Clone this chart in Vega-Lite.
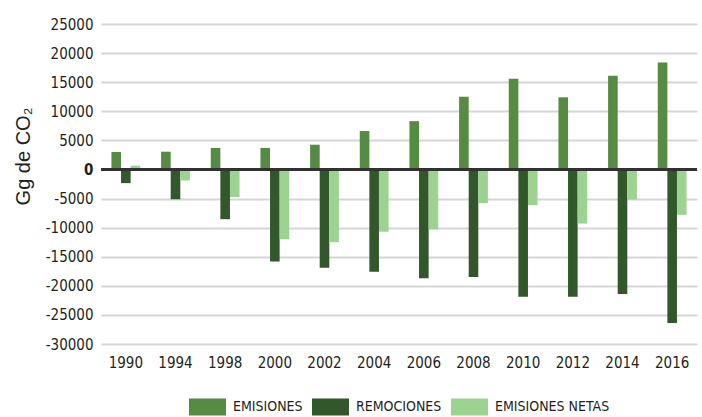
{
  "$schema": "https://vega.github.io/schema/vega-lite/v6.json",
  "autosize": {"type": "none"},
  "width": 596,
  "height": 320,
  "padding": {"left": 101, "top": 24, "right": 5, "bottom": 73},
  "background": "white",
  "config": {
    "view": {"stroke": null},
    "font": "DejaVu Sans Condensed"
  },
  "data": {
    "values": [
      {"year": "1990", "serie": "EMISIONES", "value": 3000},
      {"year": "1990", "serie": "REMOCIONES", "value": -2350},
      {"year": "1990", "serie": "EMISIONES NETAS", "value": 650},
      {"year": "1994", "serie": "EMISIONES", "value": 3050},
      {"year": "1994", "serie": "REMOCIONES", "value": -5100},
      {"year": "1994", "serie": "EMISIONES NETAS", "value": -1900},
      {"year": "1998", "serie": "EMISIONES", "value": 3700},
      {"year": "1998", "serie": "REMOCIONES", "value": -8550},
      {"year": "1998", "serie": "EMISIONES NETAS", "value": -4750},
      {"year": "2000", "serie": "EMISIONES", "value": 3700},
      {"year": "2000", "serie": "REMOCIONES", "value": -15800},
      {"year": "2000", "serie": "EMISIONES NETAS", "value": -12000},
      {"year": "2002", "serie": "EMISIONES", "value": 4250},
      {"year": "2002", "serie": "REMOCIONES", "value": -16900},
      {"year": "2002", "serie": "EMISIONES NETAS", "value": -12500},
      {"year": "2004", "serie": "EMISIONES", "value": 6600},
      {"year": "2004", "serie": "REMOCIONES", "value": -17600},
      {"year": "2004", "serie": "EMISIONES NETAS", "value": -10700},
      {"year": "2006", "serie": "EMISIONES", "value": 8300},
      {"year": "2006", "serie": "REMOCIONES", "value": -18700},
      {"year": "2006", "serie": "EMISIONES NETAS", "value": -10300},
      {"year": "2008", "serie": "EMISIONES", "value": 12500},
      {"year": "2008", "serie": "REMOCIONES", "value": -18500},
      {"year": "2008", "serie": "EMISIONES NETAS", "value": -5800},
      {"year": "2010", "serie": "EMISIONES", "value": 15600},
      {"year": "2010", "serie": "REMOCIONES", "value": -21900},
      {"year": "2010", "serie": "EMISIONES NETAS", "value": -6150},
      {"year": "2012", "serie": "EMISIONES", "value": 12400},
      {"year": "2012", "serie": "REMOCIONES", "value": -21900},
      {"year": "2012", "serie": "EMISIONES NETAS", "value": -9300},
      {"year": "2014", "serie": "EMISIONES", "value": 16100},
      {"year": "2014", "serie": "REMOCIONES", "value": -21400},
      {"year": "2014", "serie": "EMISIONES NETAS", "value": -5150},
      {"year": "2016", "serie": "EMISIONES", "value": 18400},
      {"year": "2016", "serie": "REMOCIONES", "value": -26400},
      {"year": "2016", "serie": "EMISIONES NETAS", "value": -7800}
    ]
  },
  "encoding": {
    "y": {
      "field": "value",
      "type": "quantitative",
      "scale": {"domain": [-30000, 25000], "nice": false},
      "axis": {
        "title": "Gg de CO₂",
        "titleFont": "Liberation Sans",
        "titleFontSize": 20,
        "titleFontWeight": "normal",
        "titleColor": "#231f20",
        "titleAngle": -90,
        "titleAlign": "center",
        "titleBaseline": "middle",
        "titleX": -78,
        "titleY": 132,
        "values": [-30000, -25000, -20000, -15000, -10000, -5000, 0, 5000, 10000, 15000, 20000, 25000],
        "tickCount": 20,
        "labelExpr": "'' + datum.value",
        "labelOverlap": false,
        "domain": false,
        "ticks": false,
        "labelFont": "DejaVu Sans Condensed",
        "labelFontSize": 15,
        "labelColor": "#231f20",
        "labelPadding": 8,
        "labelFontWeight": {"condition": {"test": "datum.value === 0", "value": "bold"}, "value": "normal"},
        "grid": true,
        "gridColor": "#d6d6d6",
        "gridWidth": 2
      }
    }
  },
  "layer": [
    {
      "mark": {"type": "bar"},
      "encoding": {
        "x": {
          "field": "year",
          "type": "nominal",
          "sort": null,
          "scale": {"paddingInner": 0.42, "paddingOuter": 0.21},
          "axis": {
            "title": null,
            "domain": false,
            "ticks": false,
            "labelAngle": 0,
            "labelFont": "DejaVu Sans Condensed",
            "labelFontSize": 15,
            "labelColor": "#231f20",
            "labelPadding": 11
          }
        },
        "xOffset": {
          "field": "serie",
          "type": "nominal",
          "sort": ["EMISIONES", "REMOCIONES", "EMISIONES NETAS"],
          "scale": {"paddingInner": 0, "paddingOuter": 0}
        },
        "color": {
          "field": "serie",
          "type": "nominal",
          "sort": ["EMISIONES", "REMOCIONES", "EMISIONES NETAS"],
          "scale": {
            "domain": ["EMISIONES", "REMOCIONES", "EMISIONES NETAS"],
            "range": ["#558b43", "#31572a", "#9dd391"]
          },
          "legend": {
            "title": null,
            "orient": "none",
            "direction": "horizontal",
            "legendX": 88,
            "legendY": 364,
            "padding": 0,
            "symbolType": "M-1,-0.46H1V0.46H-1Z",
            "symbolSize": 1369,
            "symbolStrokeWidth": 0,
            "labelFont": "DejaVu Sans Condensed",
            "labelFontSize": 14,
            "labelColor": "#231f20",
            "labelOffset": 7,
            "columnPadding": 9
          }
        }
      }
    },
    {
      "mark": {"type": "rule", "color": "#333333", "strokeWidth": 1.5},
      "encoding": {"y": {"datum": 0, "type": "quantitative"}}
    }
  ]
}
